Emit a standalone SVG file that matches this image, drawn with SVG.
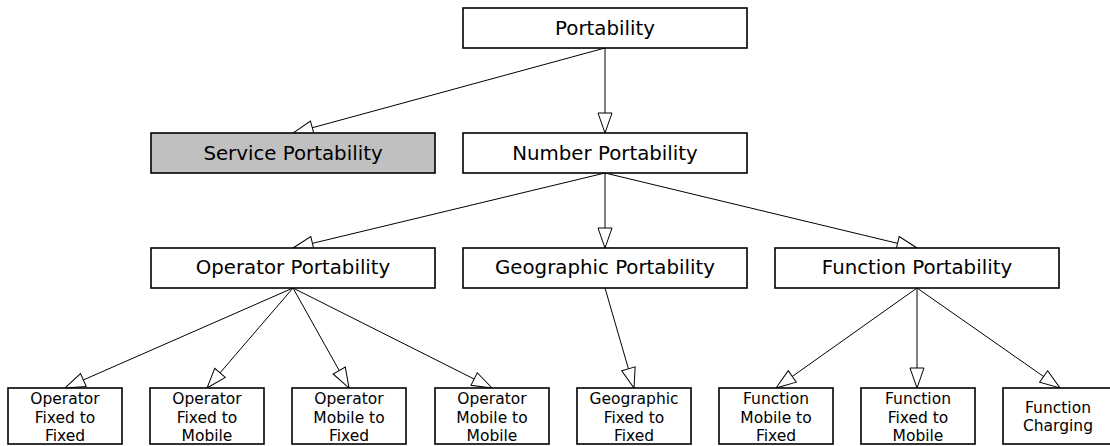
<svg xmlns="http://www.w3.org/2000/svg" width="1110" height="446" viewBox="0 0 1110 446">
  <style>
    .box { fill: #ffffff; stroke: #000000; stroke-width: 1.6; }
    .grey { fill: #c0c0c0; }
    .lbl { font-family: "DejaVu Sans", Verdana, sans-serif; font-size: 19.8px; fill: #000000; text-anchor: middle; }
    .sml { font-family: "DejaVu Sans", Verdana, sans-serif; font-size: 15.5px; fill: #000000; text-anchor: middle; }
    .edge { stroke: #000000; stroke-width: 1; fill: none; marker-end: url(#tri); }
  </style>
  <defs>
    <marker id="tri" markerUnits="userSpaceOnUse" markerWidth="22" markerHeight="16" refX="20" refY="7" orient="auto" overflow="visible">
      <path d="M0,0 L20,7 L0,14 Z" fill="#ffffff" stroke="#000000" stroke-width="1"/>
    </marker>
  </defs>

  <g id="connectors">
    <line class="edge" x1="605" y1="48" x2="293" y2="133"/>
    <line class="edge" x1="605" y1="48" x2="605" y2="133"/>
    <line class="edge" x1="605" y1="173" x2="293" y2="248"/>
    <line class="edge" x1="605" y1="173" x2="605" y2="248"/>
    <line class="edge" x1="605" y1="173" x2="917" y2="248"/>
    <line class="edge" x1="293" y1="288" x2="65" y2="388"/>
    <line class="edge" x1="293" y1="288" x2="207" y2="388"/>
    <line class="edge" x1="293" y1="288" x2="349" y2="388"/>
    <line class="edge" x1="293" y1="288" x2="492" y2="388"/>
    <line class="edge" x1="605" y1="288" x2="634" y2="388"/>
    <line class="edge" x1="917" y1="288" x2="776" y2="388"/>
    <line class="edge" x1="917" y1="288" x2="917" y2="388"/>
    <line class="edge" x1="917" y1="288" x2="1060" y2="388"/>
  </g>

  <g id="portability">
    <rect class="box" x="463" y="8" width="284" height="40"/>
    <text class="lbl" x="605" y="34.5">Portability</text>
  </g>
  <g id="service-portability">
    <rect class="box grey" x="151" y="133" width="284" height="40"/>
    <text class="lbl" x="293" y="159.5">Service Portability</text>
  </g>
  <g id="number-portability">
    <rect class="box" x="463" y="133" width="284" height="40"/>
    <text class="lbl" x="605" y="159.5">Number Portability</text>
  </g>
  <g id="operator-portability">
    <rect class="box" x="151" y="248" width="284" height="40"/>
    <text class="lbl" x="293" y="274">Operator Portability</text>
  </g>
  <g id="geographic-portability">
    <rect class="box" x="463" y="248" width="284" height="40"/>
    <text class="lbl" x="605" y="274">Geographic Portability</text>
  </g>
  <g id="function-portability">
    <rect class="box" x="775" y="248" width="284" height="40"/>
    <text class="lbl" x="917" y="274">Function Portability</text>
  </g>

  <g id="op-fixed-fixed">
    <rect class="box" x="8" y="388" width="114" height="56"/>
    <text class="sml" x="65" y="404"><tspan x="65">Operator</tspan><tspan x="65" dy="18.5">Fixed to</tspan><tspan x="65" dy="18.5">Fixed</tspan></text>
  </g>
  <g id="op-fixed-mobile">
    <rect class="box" x="150" y="388" width="114" height="56"/>
    <text class="sml" x="207" y="404"><tspan x="207">Operator</tspan><tspan x="207" dy="18.5">Fixed to</tspan><tspan x="207" dy="18.5">Mobile</tspan></text>
  </g>
  <g id="op-mobile-fixed">
    <rect class="box" x="292" y="388" width="114" height="56"/>
    <text class="sml" x="349" y="404"><tspan x="349">Operator</tspan><tspan x="349" dy="18.5">Mobile to</tspan><tspan x="349" dy="18.5">Fixed</tspan></text>
  </g>
  <g id="op-mobile-mobile">
    <rect class="box" x="435" y="388" width="114" height="56"/>
    <text class="sml" x="492" y="404"><tspan x="492">Operator</tspan><tspan x="492" dy="18.5">Mobile to</tspan><tspan x="492" dy="18.5">Mobile</tspan></text>
  </g>
  <g id="geo-fixed-fixed">
    <rect class="box" x="577" y="388" width="114" height="56"/>
    <text class="sml" x="634" y="404"><tspan x="634">Geographic</tspan><tspan x="634" dy="18.5">Fixed to</tspan><tspan x="634" dy="18.5">Fixed</tspan></text>
  </g>
  <g id="fn-mobile-fixed">
    <rect class="box" x="719" y="388" width="114" height="56"/>
    <text class="sml" x="776" y="404"><tspan x="776">Function</tspan><tspan x="776" dy="18.5">Mobile to</tspan><tspan x="776" dy="18.5">Fixed</tspan></text>
  </g>
  <g id="fn-fixed-mobile">
    <rect class="box" x="861" y="388" width="114" height="56"/>
    <text class="sml" x="918" y="404"><tspan x="918">Function</tspan><tspan x="918" dy="18.5">Fixed to</tspan><tspan x="918" dy="18.5">Mobile</tspan></text>
  </g>
  <g id="fn-charging">
    <rect class="box" x="1003" y="388" width="114" height="56"/>
    <text class="sml" x="1058" y="413"><tspan x="1058">Function</tspan><tspan x="1058" dy="18">Charging</tspan></text>
  </g>
</svg>
